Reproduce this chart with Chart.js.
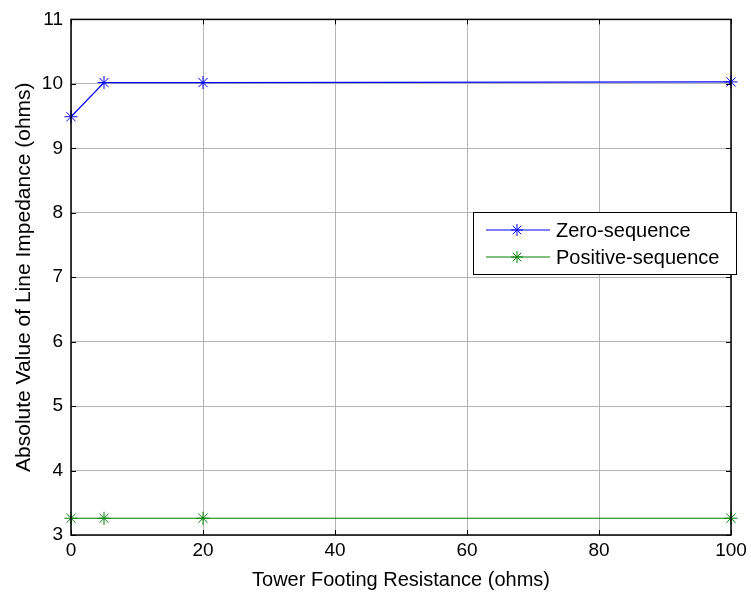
<!DOCTYPE html>
<html>
<head>
<meta charset="utf-8">
<script src="https://cdn.jsdelivr.net/npm/chart.js@4"></script>
<style>
html, body { margin: 0; padding: 0; background: #fff; }
#wrap { width: 751px; height: 594px; }
</style>
</head>
<body>
<div id="wrap"><canvas id="impedance"></canvas></div>
<script>
const resistance = [0, 5, 20, 100];
const zeroSeq = [9.49, 10.02, 10.02, 10.03];
const positiveSeq = [3.26, 3.26, 3.26, 3.26];
const seriesNames = ["Zero-sequence", "Positive-sequence"];

const font = "'Liberation Sans', Arial, sans-serif";

// black box round the plot area, inward ticks, and a MATLAB style legend
const frameAndLegend = {
    id: "frameAndLegend",
    afterDatasetsDraw(chart) {
        const ctx = chart.ctx;
        const a = chart.chartArea;
        ctx.save();
        ctx.strokeStyle = "#000";
        ctx.lineWidth = 1;
        const xs = chart.scales.x, ys = chart.scales.y;
        ctx.beginPath();
        xs.ticks.forEach((t, i) => {
            const px = Math.round(xs.getPixelForTick(i)) + 0.5;
            ctx.moveTo(px, a.bottom); ctx.lineTo(px, a.bottom - 5);
            ctx.moveTo(px, a.top); ctx.lineTo(px, a.top + 5);
        });
        ys.ticks.forEach((t, i) => {
            const py = Math.round(ys.getPixelForTick(i)) + 0.5;
            ctx.moveTo(a.left, py); ctx.lineTo(a.left + 5, py);
            ctx.moveTo(a.right, py); ctx.lineTo(a.right - 5, py);
        });
        ctx.stroke();

        ctx.lineWidth = 1.5;
        ctx.strokeRect(a.left, a.top, a.right - a.left, a.bottom - a.top);

        const bx = 473, by = 212, bw = 263, bh = 62;
        ctx.fillStyle = "#fff";
        ctx.fillRect(bx, by, bw, bh);
        ctx.lineWidth = 1;
        ctx.strokeRect(bx + 0.5, by + 0.5, bw, bh);

        ctx.font = "20px " + font;
        ctx.textBaseline = "middle";
        chart.data.datasets.forEach((ds, i) => {
            const y = by + 18 + i * 27;
            ctx.strokeStyle = ds.borderColor;
            ctx.lineWidth = 1;
            ctx.beginPath();
            ctx.moveTo(486, y);
            ctx.lineTo(550, y);
            ctx.stroke();
            Chart.helpers.drawPoint(ctx, {
                pointStyle: "star",
                radius: 6,
                borderWidth: 1
            }, 517, y);
            ctx.fillStyle = "#000";
            ctx.fillText(ds.label, 556, y + 1);
        });
        ctx.restore();
    }
};

new Chart(

    document.getElementById("impedance"),

    {

        type: "line",

        data: {

            datasets: [

                {
                    label: seriesNames[0],
                    data: resistance.map((x, i) => ({ x: x, y: zeroSeq[i] })),
                    borderColor: "#0000ff",
                    backgroundColor: "#0000ff",
                    borderWidth: 1.2,
                    pointStyle: "star",
                    pointRadius: 6.5,
                    pointBorderWidth: 1,
                    clip: false
                },

                {
                    label: seriesNames[1],
                    data: resistance.map((x, i) => ({ x: x, y: positiveSeq[i] })),
                    borderColor: "#008000",
                    backgroundColor: "#008000",
                    borderWidth: 1.2,
                    pointStyle: "star",
                    pointRadius: 6.5,
                    pointBorderWidth: 1,
                    clip: false
                }

            ]

        },

        options: {

            responsive: true,
            maintainAspectRatio: false,
            animation: false,
            layout: {
                padding: { top: 15, right: 20, left: 0, bottom: 0 }
            },

            plugins: {
                legend: { display: false },
                tooltip: { enabled: false }
            },

            scales: {

                x: {
                    type: "linear",
                    min: 0,
                    max: 100,
                    ticks: {
                        stepSize: 20,
                        color: "#000",
                        padding: 4,
                        font: { family: font, size: 19 }
                    },
                    grid: {
                        color: "#b4b4b4",
                        drawTicks: false
                    },
                    border: { display: false },
                    title: {
                        display: true,
                        text: "Tower Footing Resistance (ohms)",
                        color: "#000",
                        padding: { top: 0, bottom: 2 },
                        font: { family: font, size: 20 }
                    },
                    afterFit(scale) { scale.height = 59; }
                },

                y: {
                    min: 3,
                    max: 11,
                    ticks: {
                        stepSize: 1,
                        color: "#000",
                        padding: 8,
                        font: { family: font, size: 19 }
                    },
                    grid: {
                        color: "#b4b4b4",
                        drawTicks: false
                    },
                    border: { display: false },
                    title: {
                        display: true,
                        text: "Absolute Value of Line Impedance (ohms)",
                        color: "#000",
                        padding: { top: 12, bottom: 0 },
                        font: { family: font, size: 21 }
                    },
                    afterFit(scale) { scale.width = 71; }
                }

            }

        },

        plugins: [frameAndLegend]

    }

);
</script>
</body>
</html>
